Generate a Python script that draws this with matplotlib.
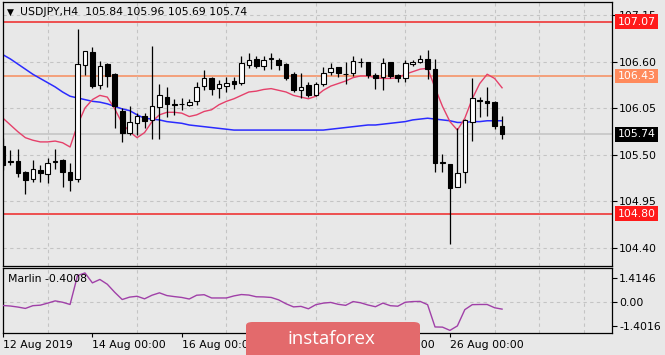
import matplotlib
matplotlib.use('Agg')
import matplotlib.pyplot as plt
from matplotlib.patches import FancyBboxPatch
from matplotlib.transforms import blended_transform_factory
import numpy as np

# ---------------- data ----------------
opens = [105.60, 105.42, 105.42, 105.30, 105.21, 105.32, 105.27, 105.41, 105.44, 105.30,
         105.21, 106.56, 106.71, 106.32, 106.57, 106.45, 106.02, 105.76, 105.87, 105.96,
         105.91, 106.06, 106.18, 106.10, 106.10, 106.09, 106.13, 106.31, 106.40, 106.29,
         106.31, 106.37, 106.35, 106.56, 106.63, 106.55, 106.63, 106.62, 106.57, 106.45,
         106.26, 106.32, 106.21, 106.33, 106.48, 106.53, 106.45, 106.46, 106.59, 106.59,
         106.44, 106.42, 106.59, 106.44, 106.40, 106.57, 106.60, 106.63, 106.51, 105.40,
         105.39, 105.12, 105.29, 105.89, 106.15, 106.13, 106.12, 105.84]
highs = [105.70, 105.55, 105.57, 105.31, 105.44, 105.38, 105.46, 105.57, 105.45, 105.40,
         106.98, 106.73, 106.77, 106.61, 106.58, 106.46, 106.05, 106.07, 105.99, 105.99,
         106.78, 106.34, 106.30, 106.16, 106.17, 106.16, 106.36, 106.50, 106.42, 106.38,
         106.42, 106.42, 106.66, 106.70, 106.66, 106.67, 106.70, 106.64, 106.58, 106.48,
         106.46, 106.36, 106.36, 106.54, 106.58, 106.54, 106.60, 106.66, 106.64, 106.60,
         106.46, 106.64, 106.60, 106.45, 106.62, 106.62, 106.68, 106.74, 106.63, 105.51,
         105.39, 105.81, 105.92, 106.41, 106.18, 106.30, 106.13, 105.96]
lows = [105.32, 105.38, 105.24, 105.04, 105.18, 105.18, 105.16, 105.33, 105.12, 105.07,
        105.18, 106.44, 106.29, 106.28, 106.30, 105.81, 105.65, 105.73, 105.73, 105.81,
        105.69, 105.69, 105.95, 105.97, 106.03, 106.07, 106.09, 106.26, 106.20, 106.17,
        106.24, 106.28, 106.32, 106.52, 106.52, 106.50, 106.51, 106.50, 106.38, 106.24,
        106.17, 106.18, 106.19, 106.31, 106.44, 106.42, 106.34, 106.43, 106.54, 106.41,
        106.28, 106.26, 106.41, 106.36, 106.36, 106.55, 106.58, 106.39, 105.29, 105.30,
        104.44, 105.12, 105.16, 105.66, 105.94, 105.96, 105.80, 105.69]
closes = [105.38, 105.41, 105.28, 105.20, 105.33, 105.28, 105.40, 105.43, 105.29, 105.20,
          106.57, 106.72, 106.31, 106.55, 106.43, 106.07, 105.76, 105.89, 105.96, 105.90,
          106.07, 106.20, 106.10, 106.09, 106.10, 106.12, 106.30, 106.40, 106.28, 106.33,
          106.35, 106.34, 106.58, 106.62, 106.55, 106.62, 106.64, 106.56, 106.41, 106.26,
          106.30, 106.20, 106.33, 106.47, 106.52, 106.46, 106.45, 106.61, 106.59, 106.44,
          106.40, 106.58, 106.43, 106.41, 106.58, 106.60, 106.63, 106.51, 105.40, 105.41,
          105.11, 105.28, 105.91, 106.17, 106.13, 106.11, 105.84, 105.74]

ma_fast = [105.93, 105.85, 105.77, 105.70, 105.67, 105.65, 105.65, 105.66, 105.64, 105.59,
           105.85, 106.05, 106.15, 106.20, 106.18, 106.04, 105.87, 105.77, 105.70, 105.76,
           105.89, 105.97, 106.00, 106.00, 105.99, 105.95, 105.97, 106.01, 106.03, 106.09,
           106.13, 106.16, 106.20, 106.24, 106.25, 106.27, 106.28, 106.26, 106.24, 106.20,
           106.18, 106.16, 106.19, 106.26, 106.31, 106.34, 106.37, 106.41, 106.43, 106.43,
           106.41, 106.40, 106.40, 106.41, 106.45, 106.48, 106.51, 106.52, 106.29, 106.07,
           105.89, 105.79, 105.93, 106.16, 106.34, 106.45, 106.40, 106.29]
ma_slow = [106.68, 106.63, 106.57, 106.51, 106.45, 106.40, 106.35, 106.30, 106.24, 106.19,
           106.17, 106.15, 106.13, 106.12, 106.10, 106.07, 106.04, 106.02, 105.97, 105.93,
           105.92, 105.91, 105.89, 105.88, 105.87, 105.85, 105.84, 105.83, 105.82, 105.81,
           105.80, 105.79, 105.79, 105.79, 105.79, 105.79, 105.79, 105.79, 105.79, 105.79,
           105.79, 105.79, 105.79, 105.79, 105.80, 105.81, 105.82, 105.83, 105.84, 105.85,
           105.85, 105.86, 105.87, 105.88, 105.89, 105.91, 105.92, 105.93, 105.92, 105.91,
           105.90, 105.88, 105.88, 105.89, 105.89, 105.90, 105.90, 105.90]
marlin = [-0.19, -0.22, -0.28, -0.36, -0.20, -0.17, -0.05, 0.08, 0.00, -0.13,
          1.55, 1.71, 1.13, 1.33, 1.05, 0.58, 0.16, 0.30, 0.35, 0.20,
          0.41, 0.55, 0.39, 0.33, 0.28, 0.19, 0.41, 0.44, 0.25, 0.25,
          0.25, 0.37, 0.45, 0.42, 0.32, 0.31, 0.28, 0.14, -0.09, -0.27,
          -0.24, -0.38, -0.14, -0.05, -0.01, -0.12, -0.18, 0.04, -0.03, -0.16,
          -0.26, -0.05, -0.20, -0.23, 0.00, 0.04, 0.05, -0.14, -1.44, -1.45,
          -1.64, -1.38, -0.43, -0.14, -0.13, -0.13, -0.32, -0.40]

price_ticks = [107.15, 106.60, 106.05, 105.50, 104.95, 104.40]
marlin_ticks = [1.4146, 0.0, -1.4016]
marlin_tick_labels = ['1.4146', '0.00', '-1.4016']
date_tick_pos = [0, 12, 24, 36, 48, 60]
date_tick_labels = ['12 Aug 2019', '14 Aug 00:00', '16 Aug 00:00',
                    '20 Aug 00:00', '22 Aug 00:00', '26 Aug 00:00']
levels = [107.07, 106.43, 105.74, 104.80]
level_line_colors = ['#EE4444', '#F59A72', '#C8C8C8', '#EE4444']
level_box_colors = ['#FF1A1A', '#FF8A5C', '#000000', '#FF1A1A']
title_text = 'USDJPY,H4  105.84 105.96 105.69 105.74'
marlin_label = 'Marlin -0.4008'

# ---------------- figure ----------------
BG = '#E8E8E8'
W, H = 665, 355
fig = plt.figure(figsize=(W / 100, H / 100), dpi=100, facecolor=BG)
plt.rcParams['font.family'] = ['DejaVu Sans']


def rect(l, t, r, b):
    return [l / W, 1 - b / H, (r - l) / W, (b - t) / H]


ax = fig.add_axes(rect(2.5, 2, 612.3, 266))
axi = fig.add_axes(rect(2.5, 268.3, 612.3, 333.3), sharex=ax)

for a in (ax, axi):
    a.set_facecolor(BG)
    for s in a.spines.values():
        s.set_color('#000000')
        s.set_linewidth(0.9)

idx = np.arange(len(opens))
o = np.array(opens); h = np.array(highs); l = np.array(lows); c = np.array(closes)

# grid
grid_pos = np.arange(0, 84, 6)
for a in (ax, axi):
    a.set_xticks(grid_pos, minor=True)
    a.grid(True, which='minor', axis='x', color='#C4C4C4', linestyle=(0, (3, 3)), linewidth=0.8)
ax.set_yticks(price_ticks)
ax.grid(True, which='major', axis='y', color='#C4C4C4', linestyle=(0, (3, 3)), linewidth=0.8)

# level lines
for lv, col in zip(levels, level_line_colors):
    ax.axhline(lv, color=col, linewidth=1.3, zorder=1.5)

# moving averages
ax.plot(idx, ma_slow, color='#2B2BFF', linewidth=1.1, zorder=2)
ax.plot(idx, ma_fast, color='#E5406A', linewidth=1.0, zorder=2)

# candles
ax.vlines(idx, l, h, color='black', linewidth=0.9, zorder=3)
up = c >= o
body_bottom = np.minimum(o, c)
body_h = np.maximum(np.abs(c - o), 0.004)
ax.bar(idx, body_h, bottom=body_bottom, width=0.62,
       color=np.where(up, 'white', 'black'), edgecolor='black', linewidth=0.8, zorder=4)

ax.set_xlim(-0.07, 81.8)
ax.set_ylim(104.183, 107.304)

# right axis ticks
ax.yaxis.tick_right()
ax.tick_params(axis='y', which='major', direction='out', length=3.5, width=0.8,
               pad=1.5, labelsize=7.8, colors='black')
ax.set_yticklabels([f'{v:.2f}' for v in price_ticks])
ax.tick_params(axis='x', which='both', bottom=False, labelbottom=False, length=0)

# level boxes
tr = blended_transform_factory(ax.transAxes, ax.transData)
for lv, col in zip(levels, level_box_colors):
    ax.text(1.0 + 5.5 / 609.8, lv, f'{lv:.2f}', transform=tr, ha='left', va='center',
            fontsize=7.8, color='white', zorder=10, clip_on=False,
            bbox=dict(boxstyle='square,pad=0.22', facecolor=col, edgecolor='none'))

# title
ax.text(4.5 / 609.8, 1 - 10 / 264, '\u25BC', transform=ax.transAxes, fontsize=6.5,
        ha='left', va='center', color='black')
ax.text(17.5 / 609.8, 1 - 10 / 264, title_text, transform=ax.transAxes, fontsize=7.8,
        ha='left', va='center', color='black')

# indicator
axi.plot(idx, marlin, color='#A040A8', linewidth=1.0, zorder=3)
axi.set_ylim(-1.81, 1.98)
axi.axhline(0, color='#C4C4C4', linestyle=(0, (3, 3)), linewidth=0.8, zorder=1)
axi.yaxis.tick_right()
axi.set_yticks(marlin_ticks)
axi.set_yticklabels(marlin_tick_labels)
axi.tick_params(axis='y', direction='out', length=3.5, width=0.8, pad=1.5, labelsize=7.8)
axi.set_xticks(date_tick_pos)
axi.set_xticklabels(date_tick_labels, ha='left')
axi.tick_params(axis='x', which='major', direction='out', length=3, width=0.8, pad=1.5,
                labelsize=7.8)
axi.tick_params(axis='x', which='minor', length=0)
axi.text(5 / 609.8, 1 - 11 / 65, marlin_label, transform=axi.transAxes, fontsize=7.8,
         ha='left', va='center', color='black')

# watermark
box = FancyBboxPatch((246 / W, -10 / H), 174 / W, (33 + 10) / H, transform=fig.transFigure,
                     boxstyle='round,pad=0,rounding_size=0.01', facecolor='#E36A6C',
                     edgecolor='none', zorder=20)
fig.patches.append(box)
fig.text(331 / W, 1 - 339 / H, 'instaforex', fontsize=13.5, color='white',
         family='Open Sans', ha='center', va='center', zorder=21)

fig.savefig('out.png', dpi=100, facecolor=BG)
